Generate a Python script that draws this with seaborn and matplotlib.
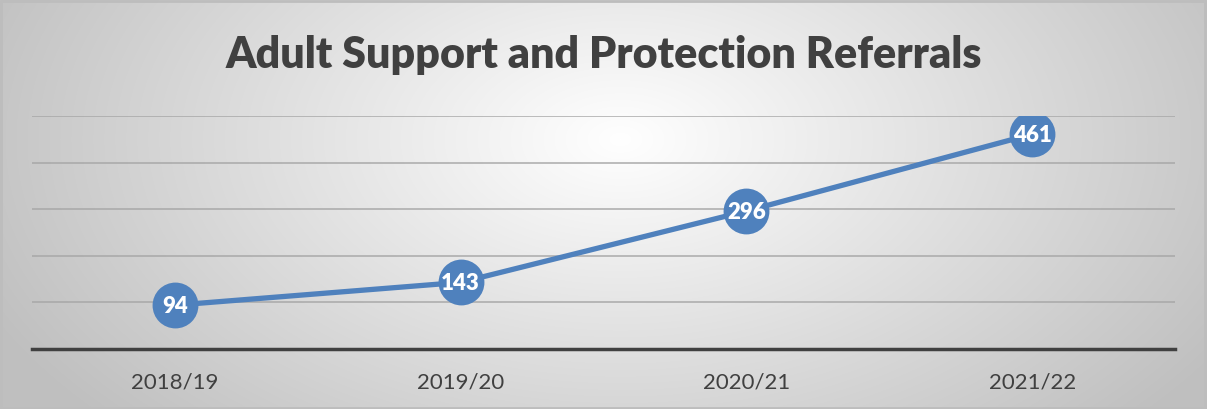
import numpy as np
import pandas as pd
import matplotlib
matplotlib.use("Agg")
import matplotlib.pyplot as plt
import seaborn as sns

years = ["2018/19", "2019/20", "2020/21", "2021/22"]
referrals = [94, 143, 296, 461]
title = "Adult Support and Protection Referrals"

sns.set_style("white")
plt.rcParams['font.family'] = ['Lato', 'DejaVu Sans']

W, H = 1207, 410
fig = plt.figure(figsize=(W / 100, H / 100), dpi=100)

# radial gradient background
bg = fig.add_axes([0, 0, 1, 1], zorder=-10)
yy, xx = np.mgrid[0:H, 0:W]
cx, cy = 620, 140
d = np.sqrt(((xx - cx) / 700.0) ** 2 + ((yy - cy) / 420.0) ** 2)
d = np.clip(d, 0, 1)
val = 1.0 - 0.25 * d
img = np.dstack([val, val, val])
bg.imshow(img, aspect='auto', extent=[0, 1, 0, 1], origin='upper')
bg.set_axis_off()
bg.add_patch(plt.Rectangle((0.001, 0.002), 0.997, 0.993, fill=False,
                           edgecolor='#bdbdbd', linewidth=2.0, transform=bg.transAxes))

ax = fig.add_axes([32 / W, (H - 350) / H, (1175 - 32) / W, (350 - 117) / H])
ax.patch.set_alpha(0)

df = pd.DataFrame({"year": years, "referrals": referrals})
sns.lineplot(data=df, x="year", y="referrals", ax=ax, color="#4f81bd",
             linewidth=3.8, marker="o", markersize=33, markeredgewidth=0,
             zorder=5)

for i, v in enumerate(referrals):
    ax.text(i, v, str(v), ha='center', va='center', color='white',
            fontsize=16, fontweight='heavy', zorder=6)

ax.set_xlim(-0.5, 3.5)
ax.set_ylim(0, 500)
ax.set_yticks([100, 200, 300, 400, 500])
ax.yaxis.grid(True, color='#a6a6a6', linewidth=1.3, alpha=0.8)
ax.xaxis.grid(False)
ax.set_axisbelow(True)
ax.tick_params(axis='y', left=False, labelleft=False)
ax.tick_params(axis='x', bottom=False, labelsize=16, labelcolor='#404040', pad=13)
for s in ['top', 'right', 'left']:
    ax.spines[s].set_visible(False)
ax.spines['bottom'].set_color('#404040')
ax.spines['bottom'].set_linewidth(2.5)
ax.set_xlabel("")
ax.set_ylabel("")

fig.text(604 / W, 1 - 55 / H, title, ha='center', va='center',
         fontsize=31, fontweight='heavy', color='#404040')

fig.savefig("out.png", dpi=100)
